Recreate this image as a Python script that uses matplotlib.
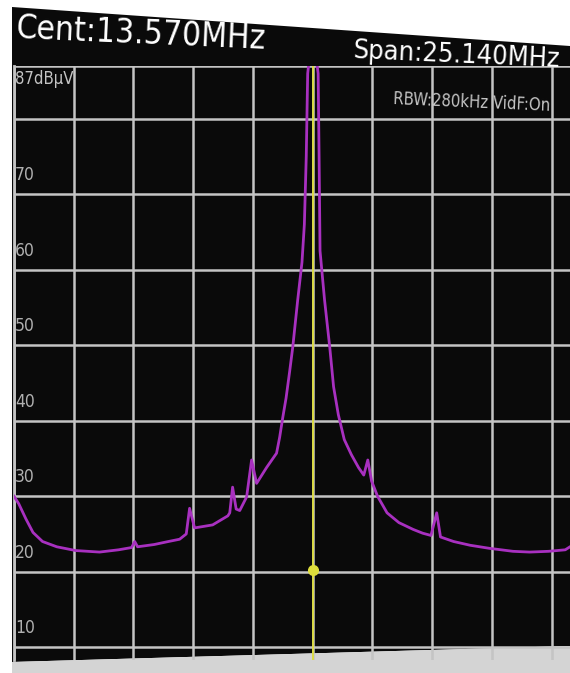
import numpy as np
import matplotlib.pyplot as plt
from matplotlib.patches import Polygon

freq = [1.0, 1.2, 1.5, 1.8, 2.2, 2.8, 3.6, 4.6, 5.4, 5.95, 6.08, 6.2, 6.9, 7.5, 7.97, 8.25,
        8.39, 8.6, 9.36, 10.0, 10.08, 10.2, 10.35, 10.5, 10.79, 11.0, 11.21, 11.63, 12.05,
        12.18, 12.31, 12.45, 12.6, 12.73, 12.94, 13.12, 13.22, 13.3, 13.36, 13.57, 13.8, 13.84,
        13.88, 14.07, 14.29, 14.45, 14.65, 14.9, 15.2, 15.5, 15.72, 15.89, 16.05, 16.3,
        16.7, 17.2, 17.8, 18.2, 18.55, 18.79, 18.95, 19.5, 20.2, 21.0, 22.0, 22.7, 23.5,
        24.2, 24.4]
livello = [30.0, 29.0, 27.0, 25.2, 24.0, 23.3, 22.8, 22.6, 22.9, 23.2, 24.0, 23.3, 23.6, 24.0, 24.3, 25.0,
           28.4, 25.8, 26.2, 27.4, 27.8, 31.2, 28.3, 28.1, 29.9, 34.8, 31.7, 33.8, 35.7,
           37.8, 40.4, 43.0, 46.5, 49.7, 56.0, 61.0, 66.0, 75.0, 86.0, 92.0, 86.0, 75.0,
           62.5, 56.0, 49.7, 44.5, 40.8, 37.5, 35.5, 33.8, 32.8, 34.8, 32.0, 30.0,
           27.8, 26.5, 25.6, 25.1, 24.8, 27.8, 24.6, 24.0, 23.5, 23.1, 22.7, 22.6, 22.7,
           22.9, 23.3]

centro = 13.570
span = 25.140
divisioni = np.linspace(centro - span / 2, centro + span / 2, 11)
livelli_griglia = [10, 20, 30, 40, 50, 60, 70, 80]
etichette_y = ['10', '20', '30', '40', '50', '60', '70']
marker_livello = 20.2

W, H = 570, 673
fig = plt.figure(figsize=(W / 100, H / 100), dpi=100, facecolor='white')

# SCHERMO NERO (FOTO LEGGERMENTE INCLINATA)
schermo = Polygon([[12 / W, 1 - 7 / H], [1.0, 1 - 46 / H], [1.0, 1 - 646 / H], [12 / W, 1 - 662 / H]],
                  closed=True, transform=fig.transFigure, facecolor='#0a0a0a', edgecolor='none', zorder=-10)
fig.patches.append(schermo)
fondo = Polygon([[12 / W, 1 - 662 / H], [1.0, 1 - 646 / H], [1.0, 0], [12 / W, 0]],
                closed=True, transform=fig.transFigure, facecolor='#d4d4d4', edgecolor='none', zorder=-10)
fig.patches.append(fondo)

ax = fig.add_axes([14 / W, 13 / H, 1 - 14 / W, (660 - 66) / H])
ax.set_zorder(5)
ax.set_facecolor('none')
ax.set_xlim(1.0, 24.4)
ax.set_ylim(8.3, 87)

for f in divisioni:
    ax.axvline(f, color='#c4c4c4', lw=1.8, zorder=1)
for l in livelli_griglia + [87]:
    ax.axhline(l, color='#c4c4c4', lw=1.8, zorder=1)

for t in etichette_y:
    ax.text(1.05, int(t) + 1.3, t, color='#b0b0b0', fontsize=12.5, va='bottom', ha='left', zorder=2,
            fontstretch='condensed')

ax.plot(freq, livello, color='#a830c0', lw=2.0, zorder=3)
ax.axvline(centro, color='#dede3c', lw=1.3, zorder=4)
ax.plot([centro], [marker_livello], 'o', color='#dede3c', markersize=7, zorder=5)

for s in ax.spines.values():
    s.set_visible(False)
ax.spines['left'].set_visible(True)
ax.spines['left'].set_color('#c4c4c4')
ax.spines['left'].set_linewidth(2)
ax.set_xticks([])
ax.set_yticks([])

fig.text(15 / W, 1 - 12 / H, 'Cent:13.570MHz', color='white', fontsize=24, va='top', ha='left',
         rotation=-2.5, zorder=10, fontstretch='condensed')
fig.text(352 / W, 1 - 38 / H, 'Span:25.140MHz', color='white', fontsize=19.5, va='top', ha='left',
         rotation=-2.5, zorder=10, fontstretch='condensed')
fig.text(15 / W, 1 - 70 / H, '87dBµV', color='#c4c4c4', fontsize=12, va='top', ha='left', zorder=10,
         fontstretch='condensed')
fig.text(393 / W, 1 - 90 / H, 'RBW:280kHz VidF:On', color='#c4c4c4', fontsize=12, va='top', ha='left',
         rotation=-2.5, zorder=10, fontstretch='condensed')

fig.savefig('out.png', dpi=100, facecolor='white')
